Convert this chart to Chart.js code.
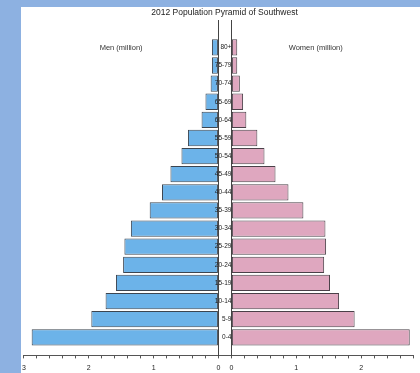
<!DOCTYPE html>
<html>
<head>
<meta charset="utf-8">
<script src="https://cdn.jsdelivr.net/npm/chart.js@4.4.1/dist/chart.umd.min.js"></script>
<style>
  body { margin: 0; background: #8db1e1; overflow: hidden; }
  #box { position: absolute; left: 21px; top: 7px; width: 399px; height: 366px; background: #fff; }
</style>
</head>
<body>
<div id="box"><canvas id="pyramid"></canvas></div>
<script>
// age groups, bottom row first
var ages = ['0-4','5-9','10-14','15-19','20-24','25-29','30-34','35-39','40-44','45-49','50-54','55-59','60-64','65-69','70-74','75-79','80+'];
// population in millions
var men   = [2.88,1.96,1.74,1.58,1.47,1.45,1.35,1.06,0.87,0.74,0.57,0.47,0.26,0.20,0.12,0.10,0.10];
var women = [2.75,1.90,1.66,1.52,1.43,1.46,1.45,1.11,0.88,0.68,0.51,0.40,0.23,0.18,0.13,0.09,0.09];
var sideLabels = ['Men (million)', 'Women (million)'];
// tick marks of the two halves
var menTicks   = [0,0.2,0.4,0.6,0.8,1,1.2,1.4,1.6,1.8,2,2.2,2.4,2.6,2.8,3];
var womenTicks = [0,0.2,0.4,0.6,0.8,1,1.2,1.4,1.6,1.8,2,2.2,2.4,2.6,2.8];

Chart.defaults.font.family = '"Liberation Sans", Arial, sans-serif';
Chart.defaults.color = '#222';

function toPoints(arr) {
    return arr.map(function (v, i) { return {x: v, y: i}; });
}
function setTicks(list) {
    return function (scale) {
        scale.ticks = list.map(function (v) { return {value: v}; });
    };
}
function wholeOnly(v) {
    return Number.isInteger(v) ? String(v) : '';
}

var ctx = document.getElementById('pyramid').getContext('2d');
var pyramid = new Chart(ctx, {
    type: 'bar',
    data: {
        datasets: [
            {
                label: sideLabels[0],
                data: toPoints(men),
                xAxisID: 'xm',
                yAxisID: 'y',
                backgroundColor: '#6cb3e9',
                borderColor: '#3c4550',
                borderWidth: 1,
                borderSkipped: false,
                grouped: false,
                categoryPercentage: 0.9,
                barPercentage: 1
            },
            {
                label: sideLabels[1],
                data: toPoints(women),
                xAxisID: 'xw',
                yAxisID: 'y',
                backgroundColor: '#dfa7bf',
                borderColor: '#4a4048',
                borderWidth: 1,
                borderSkipped: false,
                grouped: false,
                categoryPercentage: 0.9,
                barPercentage: 1
            }
        ]
    },
    options: {
        indexAxis: 'y',
        responsive: true,
        maintainAspectRatio: false,
        animation: false,
        layout: { padding: { right: -8, bottom: -4 } },
        plugins: {
            legend: { display: false },
            tooltip: { enabled: false },
            title: {
                display: true,
                text: '2012 Population Pyramid of Southwest',
                color: '#222',
                font: { size: 8.5, weight: 'normal' },
                padding: { top: 1, bottom: 2 }
            }
        },
        scales: {
            xm: {
                axis: 'x',
                type: 'linear',
                position: 'bottom',
                stack: 'pyr',
                reverse: true,
                min: 0,
                max: 3,
                afterBuildTicks: setTicks(menTicks),
                ticks: { callback: wholeOnly, autoSkip: false, maxRotation: 0, padding: 3, font: { size: 7, lineHeight: 1.8 } },
                grid: { drawOnChartArea: false, tickLength: 3, color: '#555' },
                border: { color: '#555' }
            },
            xw: {
                axis: 'x',
                type: 'linear',
                position: 'bottom',
                stack: 'pyr',
                min: -0.2,
                max: 2.8,
                afterBuildTicks: setTicks(womenTicks),
                ticks: { callback: wholeOnly, autoSkip: false, maxRotation: 0, padding: 3, font: { size: 7, lineHeight: 1.8 } },
                grid: { drawOnChartArea: false, tickLength: 3, color: '#555' },
                border: { color: '#555' }
            },
            y: {
                axis: 'y',
                type: 'linear',
                position: { xw: 0 },
                min: -1,
                max: 17.5,
                offset: false,
                afterBuildTicks: setTicks(ages.map(function (a, i) { return i; })),
                ticks: {
                    callback: function (v) { return ages[v]; },
                    autoSkip: false,
                    padding: -1,
                    z: 1,
                    font: { size: 6.5 }
                },
                grid: { display: false, drawTicks: false, offset: false },
                border: { color: '#444' }
            },
            y2: {
                axis: 'y',
                type: 'linear',
                position: { xm: 0 },
                min: -1,
                max: 17.5,
                ticks: { display: false },
                grid: { display: false, drawTicks: false },
                border: { color: '#444' }
            },
            // empty strip on the right so the title sits over the gap between halves
            pad: {
                axis: 'y',
                type: 'linear',
                position: 'right',
                ticks: { display: false },
                grid: { display: false, drawTicks: false },
                border: { display: false },
                afterFit: function (scale) { scale.width = 15; }
            },
            lab: {
                axis: 'x',
                type: 'category',
                position: { y: 16 },
                labels: sideLabels,
                offset: true,
                ticks: { padding: -4, font: { size: 7.5 }, color: '#333' },
                grid: { display: false, drawTicks: false },
                border: { display: false }
            }
        }
    }
});
</script>
</body>
</html>
